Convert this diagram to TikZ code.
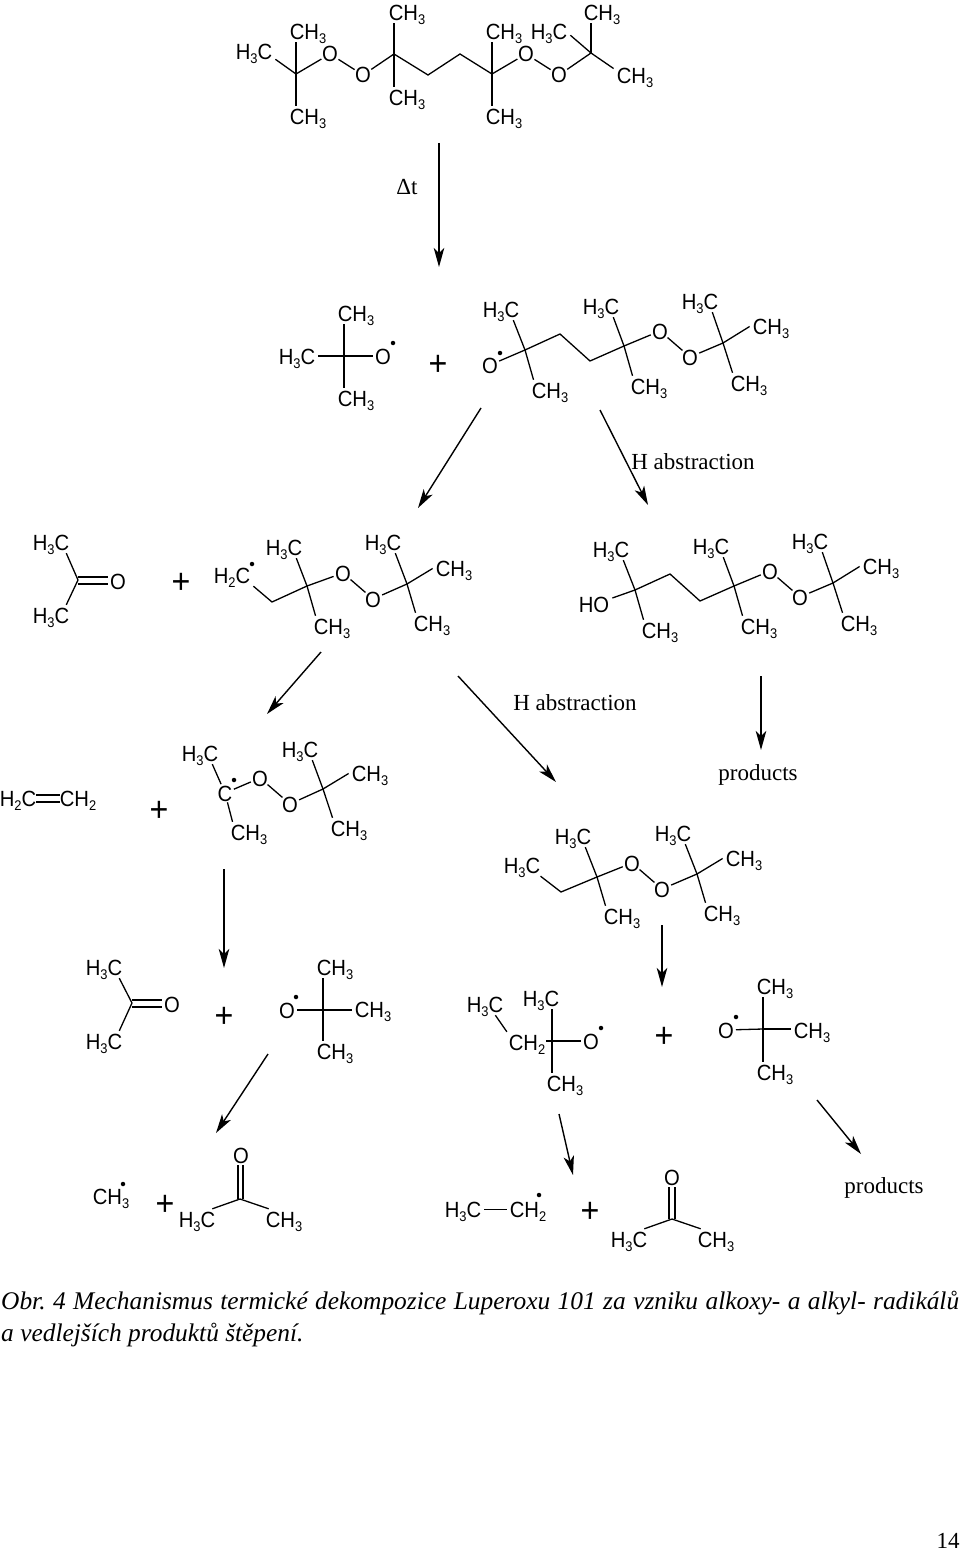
\documentclass[tikz,border=0pt]{standalone}
\usepackage{fontspec}
\setmainfont{Liberation Serif}
\newfontfamily\atomfont[FakeStretch=0.92]{Liberation Sans}
\usetikzlibrary{arrows.meta}
\newcommand{\low}[1]{\raisebox{-4pt}{\fontsize{14}{14}\selectfont #1}}
\tikzstyle{bond} = [draw, line width=1.3pt]
\tikzstyle{line} = [draw, line width=1.4pt, -{Stealth[length=19pt,width=10.5pt,inset=5pt]}]
\tikzstyle{atom} = [inner xsep=3pt, inner ysep=2.5pt, text height=16pt, text depth=0pt, font=\atomfont\fontsize{22}{22}\selectfont]
\tikzstyle{oxy} = [circle, inner sep=-1pt, text height=16pt, text depth=0pt, font=\atomfont\fontsize{22}{22}\selectfont]
\tikzstyle{radical} = [circle, fill=black, inner sep=0pt, minimum size=4.5pt]
\tikzstyle{plussign} = [inner sep=0pt, font=\atomfont\fontsize{35}{35}\selectfont]
\tikzstyle{note} = [inner sep=0pt, font=\fontsize{23}{23}\selectfont]

\begin{document}
\begin{tikzpicture}[x=1pt, y=-1pt]
	\useasboundingbox (0,0) rectangle (960,1554);

	% starting peroxide
	\coordinate (m1_c1) at (296,74);
	\coordinate (m1_c2) at (394,54);
	\coordinate (m1_c3) at (428,75);
	\coordinate (m1_c4) at (460,54);
	\coordinate (m1_c5) at (492,74);
	\coordinate (m1_c6) at (591,53);
	\node[atom] (m1_h3c1) at (254,51.5) {H\low{3}C};
	\node[atom] (m1_ch3a) at (308,31.5) {CH\low{3}};
	\node[atom] (m1_ch3b) at (308,116.5) {CH\low{3}};
	\node[oxy] (m1_o1) at (330,54) {O};
	\node[oxy] (m1_o2) at (363,75) {O};
	\node[atom] (m1_ch3c) at (407,12.5) {CH\low{3}};
	\node[atom] (m1_ch3d) at (407,97.5) {CH\low{3}};
	\node[atom] (m1_ch3e) at (504,31.5) {CH\low{3}};
	\node[atom] (m1_ch3f) at (504,116.5) {CH\low{3}};
	\node[oxy] (m1_o3) at (526,54) {O};
	\node[oxy] (m1_o4) at (559,75) {O};
	\node[atom] (m1_ch3g) at (602,12.5) {CH\low{3}};
	\node[atom] (m1_h3c2) at (549,31.5) {H\low{3}C};
	\node[atom] (m1_ch3h) at (635,75.5) {CH\low{3}};
	\path [bond] (m1_c1) to (m1_h3c1.-20);
	\path [bond] (m1_c1) to (m1_ch3a.south-|m1_c1);
	\path [bond] (m1_c1) to (m1_ch3b.north-|m1_c1);
	\path [bond] (m1_c1) to (m1_o1);
	\path [bond] (m1_o1) to (m1_o2);
	\path [bond] (m1_o2) to (m1_c2);
	\path [bond] (m1_c2) to (m1_ch3c.south-|m1_c2);
	\path [bond] (m1_c2) to (m1_ch3d.north-|m1_c2);
	\path [bond] (m1_c2) -- (m1_c3) -- (m1_c4) -- (m1_c5);
	\path [bond] (m1_c5) to (m1_ch3e.south-|m1_c5);
	\path [bond] (m1_c5) to (m1_ch3f.north-|m1_c5);
	\path [bond] (m1_c5) to (m1_o3);
	\path [bond] (m1_o3) to (m1_o4);
	\path [bond] (m1_o4) to (m1_c6);
	\path [bond] (m1_c6) to (m1_ch3g.south-|m1_c6);
	\path [bond] (m1_c6) to (m1_h3c2.-10);
	\path [bond] (m1_c6) to (m1_ch3h.162);

	\node[note] (delta) at (407,187) {Δt};
	\coordinate (a1_s) at (439,143);
	\coordinate (a1_e) at (439,267);
	\path [line] (a1_s) to (a1_e);

	% first cleavage
	\coordinate (m2_c1) at (344,356);
	\node[atom] (m2_ch3a) at (356,313.5) {CH\low{3}};
	\node[atom] (m2_h3c1) at (297,356.5) {H\low{3}C};
	\node[atom] (m2_ch3b) at (356,398.5) {CH\low{3}};
	\node[oxy] (m2_o1) at (383,356) {O};
	\node[radical] (m2_dot1) at (393,343) {};
	\path [bond] (m2_c1) to (m2_ch3a.south-|m2_c1);
	\path [bond] (m2_c1) to (m2_ch3b.north-|m2_c1);
	\path [bond] (m2_c1) to (m2_h3c1.east|-m2_c1);
	\path [bond] (m2_c1) to (m2_o1);
	\node[plussign] (m2_plus) at (438,365) {+};

	\coordinate (m2_c2) at (525,350);
	\coordinate (m2_c3) at (560,334);
	\coordinate (m2_c4) at (590,361);
	\coordinate (m2_c5) at (624,346);
	\coordinate (m2_c6) at (723,343);
	\node[oxy] (m2_o2) at (490,365) {O};
	\node[radical] (m2_dot2) at (500,353) {};
	\node[atom] (m2_h3c2) at (501,309.5) {H\low{3}C};
	\node[atom] (m2_ch3c) at (550,390.5) {CH\low{3}};
	\node[atom] (m2_h3c3) at (601,306.5) {H\low{3}C};
	\node[atom] (m2_ch3d) at (649,386.5) {CH\low{3}};
	\node[oxy] (m2_o3) at (660,331) {O};
	\node[oxy] (m2_o4) at (690,357) {O};
	\node[atom] (m2_h3c4) at (700,301.5) {H\low{3}C};
	\node[atom] (m2_ch3e) at (771,326.5) {CH\low{3}};
	\node[atom] (m2_ch3f) at (749,383.5) {CH\low{3}};
	\path [bond] (m2_o2) to (m2_c2);
	\path [bond] (m2_c2) to (m2_h3c2.-41);
	\path [bond] (m2_c2) to (m2_ch3c.147);
	\path [bond] (m2_c2) -- (m2_c3) -- (m2_c4) -- (m2_c5);
	\path [bond] (m2_c5) to (m2_h3c3.-41);
	\path [bond] (m2_c5) to (m2_ch3d.147);
	\path [bond] (m2_c5) to (m2_o3);
	\path [bond] (m2_o3) to (m2_o4);
	\path [bond] (m2_o4) to (m2_c6);
	\path [bond] (m2_c6) to (m2_h3c4.-41);
	\path [bond] (m2_c6) to (m2_ch3e.west);
	\path [bond] (m2_c6) to (m2_ch3f.147);

	\coordinate (a2_s) at (481,408);
	\coordinate (a2_e) at (418,508);
	\path [line] (a2_s) to (a2_e);
	\coordinate (a3_s) at (600,410);
	\coordinate (a3_e) at (648,505);
	\path [line] (a3_s) to (a3_e);
	\node[note] (habs1) at (693,462) {H abstraction};

	% beta scission, left
	\coordinate (m3_c1) at (78,580);
	\coordinate (m3_c1a) at (78,577);
	\coordinate (m3_c1b) at (78,584);
	\node[atom] (m3_h3c1) at (51,542.5) {H\low{3}C};
	\node[atom] (m3_h3c2) at (51,615.5) {H\low{3}C};
	\node[oxy] (m3_o1) at (118,581) {O};
	\path [bond] (m3_c1) to (m3_h3c1.-35);
	\path [bond] (m3_c1) to (m3_h3c2.35);
	\path [bond] (m3_c1a) to (m3_c1a-|m3_o1.west);
	\path [bond] (m3_c1b) to (m3_c1b-|m3_o1.west);
	\node[plussign] (m3_plus) at (181,583) {+};

	\coordinate (m3_c2) at (272,602);
	\coordinate (m3_c3) at (307,586);
	\coordinate (m3_c4) at (407,584);
	\node[atom] (m3_h2c) at (232,575.5) {H\low{2}C};
	\node[radical] (m3_dot) at (252,564) {};
	\node[atom] (m3_h3c3) at (284,547.5) {H\low{3}C};
	\node[atom] (m3_ch3a) at (332,626.5) {CH\low{3}};
	\node[oxy] (m3_o2) at (343,573) {O};
	\node[oxy] (m3_o3) at (373,599) {O};
	\node[atom] (m3_h3c4) at (383,542.5) {H\low{3}C};
	\node[atom] (m3_ch3b) at (454,568.5) {CH\low{3}};
	\node[atom] (m3_ch3c) at (432,623.5) {CH\low{3}};
	\path [bond] (m3_h2c.south east) -- (m3_c2) -- (m3_c3);
	\path [bond] (m3_c3) to (m3_h3c3.-41);
	\path [bond] (m3_c3) to (m3_ch3a.147);
	\path [bond] (m3_c3) to (m3_o2);
	\path [bond] (m3_o2) to (m3_o3);
	\path [bond] (m3_o3) to (m3_c4);
	\path [bond] (m3_c4) to (m3_h3c4.-41);
	\path [bond] (m3_c4) to (m3_ch3b.west);
	\path [bond] (m3_c4) to (m3_ch3c.147);

	% alcohol, right
	\coordinate (m4_c1) at (635,590);
	\coordinate (m4_c2) at (670,574);
	\coordinate (m4_c3) at (700,601);
	\coordinate (m4_c4) at (734,586);
	\coordinate (m4_c5) at (833,583);
	\node[atom] (m4_ho) at (594,604.5) {HO};
	\node[atom] (m4_h3c1) at (611,549.5) {H\low{3}C};
	\node[atom] (m4_ch3a) at (660,630.5) {CH\low{3}};
	\node[atom] (m4_h3c2) at (711,546.5) {H\low{3}C};
	\node[atom] (m4_ch3b) at (759,626.5) {CH\low{3}};
	\node[oxy] (m4_o1) at (770,571) {O};
	\node[oxy] (m4_o2) at (800,597) {O};
	\node[atom] (m4_h3c3) at (810,541.5) {H\low{3}C};
	\node[atom] (m4_ch3c) at (881,566.5) {CH\low{3}};
	\node[atom] (m4_ch3d) at (859,623.5) {CH\low{3}};
	\path [bond] (m4_ho) to (m4_c1);
	\path [bond] (m4_c1) to (m4_h3c1.-41);
	\path [bond] (m4_c1) to (m4_ch3a.147);
	\path [bond] (m4_c1) -- (m4_c2) -- (m4_c3) -- (m4_c4);
	\path [bond] (m4_c4) to (m4_h3c2.-41);
	\path [bond] (m4_c4) to (m4_ch3b.147);
	\path [bond] (m4_c4) to (m4_o1);
	\path [bond] (m4_o1) to (m4_o2);
	\path [bond] (m4_o2) to (m4_c5);
	\path [bond] (m4_c5) to (m4_h3c3.-41);
	\path [bond] (m4_c5) to (m4_ch3c.west);
	\path [bond] (m4_c5) to (m4_ch3d.147);

	\coordinate (a4_s) at (321,652);
	\coordinate (a4_e) at (267,714);
	\path [line] (a4_s) to (a4_e);
	\coordinate (a5_s) at (458,676);
	\coordinate (a5_e) at (556,782);
	\path [line] (a5_s) to (a5_e);
	\coordinate (a6_s) at (761,676);
	\coordinate (a6_e) at (761,750);
	\path [line] (a6_s) to (a6_e);
	\node[note] (habs2) at (575,703) {H abstraction};
	\node[note] (prod1) at (758,775) {products};

	% ethylene and radical
	\node[atom] (m5_h2c) at (18,798.5) {H\low{2}C};
	\node[atom] (m5_ch2) at (78,798.5) {CH\low{2}};
	\path [bond] ([xshift=-3pt,yshift=3.5pt]m5_h2c.east) to ([xshift=3pt,yshift=3.5pt]m5_ch2.west);
	\path [bond] ([xshift=-3pt,yshift=-3.5pt]m5_h2c.east) to ([xshift=3pt,yshift=-3.5pt]m5_ch2.west);
	\node[plussign] (m5_plus) at (159,811) {+};

	\coordinate (m5_c2) at (323,789);
	\node[oxy] (m5_c1) at (225,793) {C};
	\node[radical] (m5_dot) at (234,780) {};
	\node[atom] (m5_h3c1) at (200,753.5) {H\low{3}C};
	\node[atom] (m5_ch3a) at (249,832.5) {CH\low{3}};
	\node[oxy] (m5_o1) at (260,778) {O};
	\node[oxy] (m5_o2) at (290,804) {O};
	\node[atom] (m5_h3c2) at (300,749.5) {H\low{3}C};
	\node[atom] (m5_ch3b) at (370,773.5) {CH\low{3}};
	\node[atom] (m5_ch3c) at (349,828.5) {CH\low{3}};
	\path [bond] (m5_c1) to (m5_h3c1.-41);
	\path [bond] (m5_c1) to (m5_ch3a.147);
	\path [bond] (m5_c1) to (m5_o1);
	\path [bond] (m5_o1) to (m5_o2);
	\path [bond] (m5_o2) to (m5_c2);
	\path [bond] (m5_c2) to (m5_h3c2.-41);
	\path [bond] (m5_c2) to (m5_ch3b.west);
	\path [bond] (m5_c2) to (m5_ch3c.147);

	% ethyl peroxide
	\coordinate (m6_c1) at (561,892);
	\coordinate (m6_c2) at (597,877);
	\coordinate (m6_c3) at (697,874);
	\node[atom] (m6_h3c1) at (522,865.5) {H\low{3}C};
	\node[atom] (m6_h3c2) at (573,836.5) {H\low{3}C};
	\node[atom] (m6_ch3a) at (622,916.5) {CH\low{3}};
	\node[oxy] (m6_o1) at (632,863) {O};
	\node[oxy] (m6_o2) at (662,889) {O};
	\node[atom] (m6_h3c3) at (673,833.5) {H\low{3}C};
	\node[atom] (m6_ch3b) at (744,858.5) {CH\low{3}};
	\node[atom] (m6_ch3c) at (722,913.5) {CH\low{3}};
	\path [bond] (m6_h3c1.-30) -- (m6_c1) -- (m6_c2);
	\path [bond] (m6_c2) to (m6_h3c2.-41);
	\path [bond] (m6_c2) to (m6_ch3a.147);
	\path [bond] (m6_c2) to (m6_o1);
	\path [bond] (m6_o1) to (m6_o2);
	\path [bond] (m6_o2) to (m6_c3);
	\path [bond] (m6_c3) to (m6_h3c3.-41);
	\path [bond] (m6_c3) to (m6_ch3b.west);
	\path [bond] (m6_c3) to (m6_ch3c.147);

	\coordinate (a7_s) at (224,869);
	\coordinate (a7_e) at (224,968);
	\path [line] (a7_s) to (a7_e);
	\coordinate (a8_s) at (662,925);
	\coordinate (a8_e) at (662,987);
	\path [line] (a8_s) to (a8_e);

	% acetone and t-butoxy, left
	\coordinate (m7_c1) at (132,1003);
	\coordinate (m7_c1a) at (132,1000);
	\coordinate (m7_c1b) at (132,1007);
	\node[atom] (m7_h3c1) at (104,967.5) {H\low{3}C};
	\node[atom] (m7_h3c2) at (104,1041.5) {H\low{3}C};
	\node[oxy] (m7_o1) at (172,1004) {O};
	\path [bond] (m7_c1) to (m7_h3c1.-35);
	\path [bond] (m7_c1) to (m7_h3c2.35);
	\path [bond] (m7_c1a) to (m7_c1a-|m7_o1.west);
	\path [bond] (m7_c1b) to (m7_c1b-|m7_o1.west);
	\node[plussign] (m7_plus) at (224,1017) {+};

	\coordinate (m7_c2) at (323,1010);
	\node[oxy] (m7_o2) at (287,1010) {O};
	\node[radical] (m7_dot1) at (296,997) {};
	\node[atom] (m7_ch3a) at (335,967.5) {CH\low{3}};
	\node[atom] (m7_ch3b) at (373,1009.5) {CH\low{3}};
	\node[atom] (m7_ch3c) at (335,1051.5) {CH\low{3}};
	\path [bond] (m7_c2) to (m7_o2);
	\path [bond] (m7_c2) to (m7_ch3a.south-|m7_c2);
	\path [bond] (m7_c2) to (m7_ch3b.west|-m7_c2);
	\path [bond] (m7_c2) to (m7_ch3c.north-|m7_c2);

	% pentoxy radical
	\coordinate (m8_c1) at (552,1041);
	\coordinate (m8_c0) at (546,1041);
	\node[atom] (m8_h3c1) at (485,1004.5) {H\low{3}C};
	\node[atom] (m8_ch2) at (527,1042.5) {CH\low{2}};
	\node[atom] (m8_h3c2) at (541,998.5) {H\low{3}C};
	\node[atom] (m8_ch3) at (565,1083.5) {CH\low{3}};
	\node[oxy] (m8_o1) at (591,1041) {O};
	\node[radical] (m8_dot1) at (601,1028) {};
	\path [bond] (m8_h3c1.-46) to (m8_ch2.152);
	\path [bond] (m8_c0) to (m8_o1);
	\path [bond] (m8_c1) to (m8_h3c2.south-|m8_c1);
	\path [bond] (m8_c1) to (m8_ch3.north-|m8_c1);
	\node[plussign] (m8_plus) at (664,1037) {+};

	\coordinate (m8_c2) at (763,1029);
	\node[oxy] (m8_o2) at (726,1030) {O};
	\node[radical] (m8_dot2) at (736,1017) {};
	\node[atom] (m8_ch3a) at (775,986.5) {CH\low{3}};
	\node[atom] (m8_ch3b) at (812,1030.5) {CH\low{3}};
	\node[atom] (m8_ch3c) at (775,1072.5) {CH\low{3}};
	\path [bond] (m8_c2) to (m8_o2);
	\path [bond] (m8_c2) to (m8_ch3a.south-|m8_c2);
	\path [bond] (m8_c2) to (m8_ch3b.west|-m8_c2);
	\path [bond] (m8_c2) to (m8_ch3c.north-|m8_c2);

	\coordinate (a9_s) at (268,1054);
	\coordinate (a9_e) at (216,1133);
	\path [line] (a9_s) to (a9_e);
	\coordinate (a10_s) at (559,1114);
	\coordinate (a10_e) at (573,1175);
	\path [line] (a10_s) to (a10_e);
	\coordinate (a11_s) at (817,1100);
	\coordinate (a11_e) at (861,1154);
	\path [line] (a11_s) to (a11_e);
	\node[note] (prod2) at (884,1188) {products};

	% last row
	\node[atom] (m9_ch3) at (111,1196.5) {CH\low{3}};
	\node[radical] (m9_dot1) at (123,1184) {};
	\node[plussign] (m9_plus1) at (165,1205) {+};
	\coordinate (m9_c1) at (240,1199);
	\coordinate (m9_c1a) at (238,1199);
	\coordinate (m9_c1b) at (243,1199);
	\node[oxy] (m9_o1) at (241,1155) {O};
	\node[atom] (m9_h3c1) at (197,1219.5) {H\low{3}C};
	\node[atom] (m9_ch3a) at (284,1219.5) {CH\low{3}};
	\path [bond] (m9_c1a) to (m9_c1a|-m9_o1.south);
	\path [bond] (m9_c1b) to (m9_c1b|-m9_o1.south);
	\path [bond] (m9_c1) to (m9_h3c1.35);
	\path [bond] (m9_c1) to (m9_ch3a.145);

	\node[atom] (m9_h3c2) at (463,1209.5) {H\low{3}C};
	\node[atom] (m9_ch2) at (528,1209.5) {CH\low{2}};
	\node[radical] (m9_dot2) at (539,1195) {};
	\path [bond] (m9_h3c2.east) to (m9_ch2.west);
	\node[plussign] (m9_plus2) at (590,1212) {+};
	\coordinate (m9_c2) at (672,1219);
	\coordinate (m9_c2a) at (669,1219);
	\coordinate (m9_c2b) at (675,1219);
	\node[oxy] (m9_o2) at (672,1177) {O};
	\node[atom] (m9_h3c3) at (629,1239.5) {H\low{3}C};
	\node[atom] (m9_ch3b) at (716,1239.5) {CH\low{3}};
	\path [bond] (m9_c2a) to (m9_c2a|-m9_o2.south);
	\path [bond] (m9_c2b) to (m9_c2b|-m9_o2.south);
	\path [bond] (m9_c2) to (m9_h3c3.35);
	\path [bond] (m9_c2) to (m9_ch3b.145);

	\node[anchor=north west, inner sep=0pt, text width=958pt, align=justify, font=\itshape\fontsize{25.4}{32}\selectfont] (caption) at (1,1291) {\frenchspacing Obr. 4 Mechanismus termické dekompozice Luperoxu 101 za vzniku alkoxy- a alkyl- radikálů\linebreak a vedlejších produktů štěpení.};
	\node[note] (page) at (948,1541) {14};
\end{tikzpicture}
\end{document}
